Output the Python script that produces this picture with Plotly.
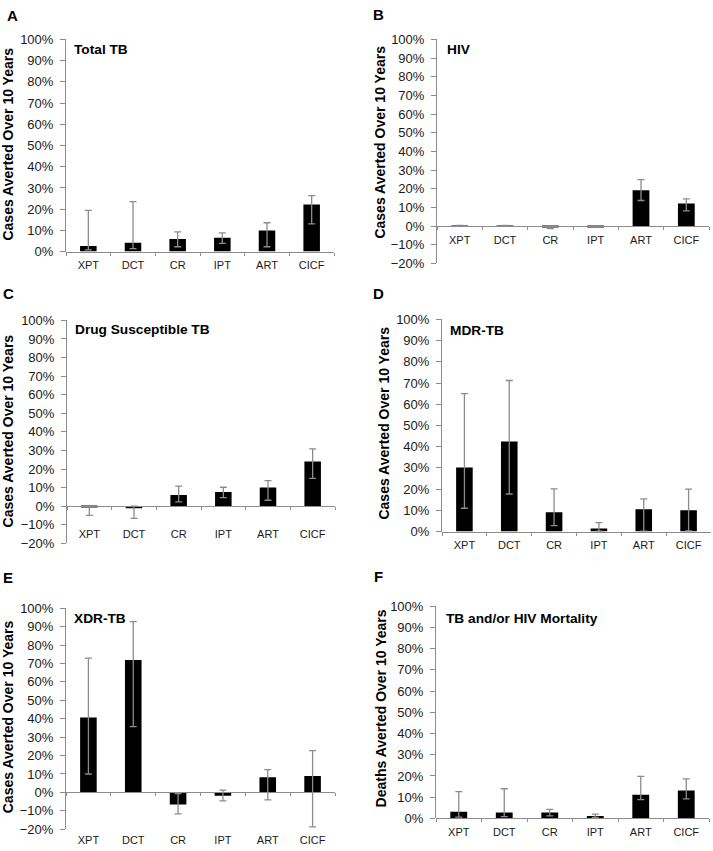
import plotly.graph_objects as go

W, H = 713, 851

categories = ["XPT", "DCT", "CR", "IPT", "ART", "CICF"]

# Panel A: Total TB
a_val = [2.6, 4.2, 6.0, 6.5, 9.9, 22.2]
a_up = [19.4, 23.6, 9.3, 8.8, 13.6, 26.4]
a_lo = [0.8, 1.4, 2.3, 3.9, 2.3, 13.1]
# Panel B: HIV
b_val = [0.2, 0.2, -0.5, -0.2, 19.2, 12.1]
b_up = [0.4, 0.4, 0.0, 0.0, 24.9, 14.6]
b_lo = [0.0, 0.0, -1.3, -0.4, 13.7, 8.1]
# Panel C: Drug Susceptible TB
c_val = [-0.4, -1.1, 6.1, 7.6, 10.1, 24.0]
c_up = [0.0, 0.0, 10.8, 10.2, 13.8, 30.9]
c_lo = [-4.9, -6.5, 2.3, 4.6, 3.2, 15.0]
# Panel D: MDR-TB
d_val = [30.2, 42.4, 9.1, 1.4, 10.5, 10.0]
d_up = [65.0, 71.2, 20.1, 4.2, 15.4, 20.0]
d_lo = [11.0, 17.7, 2.8, 0.2, 0.2, 0.3]
# Panel E: XDR-TB
e_val = [40.7, 71.9, -6.6, -1.8, 8.2, 8.9]
e_up = [72.9, 92.7, -0.7, 1.2, 12.4, 22.7]
e_lo = [10.0, 35.7, -11.7, -4.6, -4.1, -18.7]
# Panel F: TB and/or HIV Mortality
f_val = [3.1, 2.8, 2.8, 1.1, 11.2, 13.2]
f_up = [12.6, 14.0, 4.3, 2.0, 19.8, 18.6]
f_lo = [0.6, 0.9, 1.2, 0.5, 8.9, 9.2]

panels = [
    dict(letter="A", title="Total TB", ytitle="Cases Averted Over 10 Years",
         val=a_val, up=a_up, lo=a_lo, x=(66, 334), y=(33, 249), rng=(0, 100),
         stand=3, letpos=(12, 9), titpos=(72, 43), ytpos=(8, 140)),
    dict(letter="B", title="HIV", ytitle="Cases Averted Over 10 Years",
         val=b_val, up=b_up, lo=b_lo, x=(437, 709), y=(33, 261), rng=(-20, 100),
         stand=4, letpos=(379, 8), titpos=(445, 43), ytpos=(380, 138)),
    dict(letter="C", title="Drug Susceptible TB", ytitle="Cases Averted Over 10 Years",
         val=c_val, up=c_up, lo=c_lo, x=(67, 335), y=(319, 546), rng=(-20, 100),
         stand=18, letpos=(8, 292), titpos=(73, 328), ytpos=(8, 432)),
    dict(letter="D", title="MDR-TB", ytitle="Cases Averted Over 10 Years",
         val=d_val, up=d_up, lo=d_lo, x=(442, 711), y=(318, 534), rng=(0, 100),
         stand=3, letpos=(379, 292), titpos=(448, 329), ytpos=(384, 424)),
    dict(letter="E", title="XDR-TB", ytitle="Cases Averted Over 10 Years",
         val=e_val, up=e_up, lo=e_lo, x=(66, 335), y=(612, 837), rng=(-20, 100),
         stand=37, letpos=(8, 581), titpos=(72, 622), ytpos=(8, 723)),
    dict(letter="F", title="TB and/or HIV Mortality", ytitle="Deaths Averted Over 10 Years",
         val=f_val, up=f_up, lo=f_lo, x=(436, 709), y=(610, 826), rng=(0, 100),
         stand=3, letpos=(379, 580), titpos=(444, 622), ytpos=(381, 714)),
]

FONT = "Arial, Liberation Sans, sans-serif"
AXC = "#8c8c8c"

fig = go.Figure()
annotations = []
layout = {}

for i, p in enumerate(panels):
    n = i + 1
    sfx = "" if n == 1 else str(n)
    fig.add_trace(go.Bar(
        x=categories, y=p["val"],
        xaxis="x" + sfx, yaxis="y" + sfx,
        marker=dict(color="black", line=dict(width=0)),
        error_y=dict(type="data", symmetric=False,
                     array=[u - v for u, v in zip(p["up"], p["val"])],
                     arrayminus=[v - l for v, l in zip(p["val"], p["lo"])],
                     color=AXC, thickness=1.3, width=3.5),
        showlegend=False, hoverinfo="skip",
    ))
    top, bot = p["y"]
    r0, r1 = p["rng"]
    zero_px = top + (bot - top) * r1 / (r1 - r0)
    layout["xaxis" + sfx] = dict(
        domain=[p["x"][0] / W, p["x"][1] / W],
        anchor="free", position=1 - zero_px / H,
        type="category", tickson="boundaries",
        showline=True, linecolor=AXC, linewidth=1,
        ticks="outside", ticklen=3, tickcolor=AXC,
        tickfont=dict(family=FONT, size=11, color="#1a1a1a"),
        ticklabelstandoff=p["stand"],
        showgrid=False, zeroline=False, fixedrange=True,
    )
    layout["yaxis" + sfx] = dict(
        domain=[1 - bot / H, 1 - top / H],
        anchor="x" + sfx, range=[r0, r1],
        tick0=0, dtick=10, ticksuffix="%",
        showline=True, linecolor=AXC, linewidth=1,
        ticks="outside", ticklen=5, tickcolor=AXC,
        tickfont=dict(family=FONT, size=13, color="#1a1a1a"),
        ticklabelstandoff=4,
        showgrid=False, zeroline=False, fixedrange=True,
    )
    annotations.append(dict(
        text="<b>%s</b>" % p["letter"], x=p["letpos"][0] / W, y=1 - p["letpos"][1] / H,
        xref="paper", yref="paper", xanchor="center", yanchor="middle",
        showarrow=False, font=dict(family=FONT, size=15, color="black")))
    annotations.append(dict(
        text="<b>%s</b>" % p["title"], x=p["titpos"][0] / W, y=1 - p["titpos"][1] / H,
        xref="paper", yref="paper", xanchor="left", yanchor="middle",
        showarrow=False, font=dict(family=FONT, size=13.7, color="black")))
    annotations.append(dict(
        text="<b>%s</b>" % p["ytitle"], x=p["ytpos"][0] / W, y=1 - p["ytpos"][1] / H,
        xref="paper", yref="paper", xanchor="center", yanchor="middle",
        textangle=-90, showarrow=False,
        font=dict(family=FONT, size=14, color="black")))

fig.update_layout(
    width=W, height=H,
    margin=dict(l=0, r=0, t=0, b=0),
    paper_bgcolor="white", plot_bgcolor="white",
    bargap=0.63,
    annotations=annotations,
    font=dict(family=FONT),
    **layout,
)

fig.write_html(
    "out.html",
    config={"displayModeBar": False},
    post_script="document.body.style.margin='0';document.body.style.overflow='hidden';",
)
